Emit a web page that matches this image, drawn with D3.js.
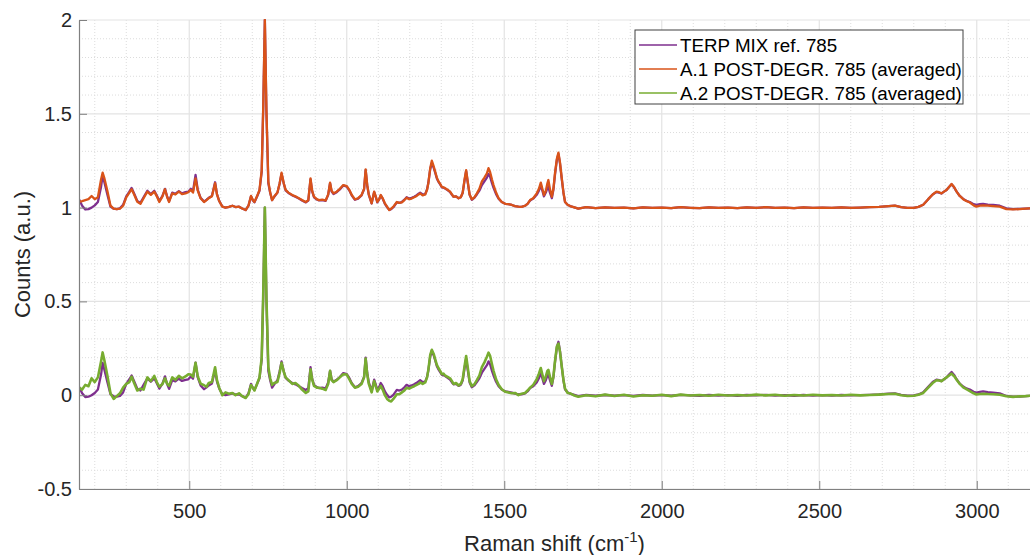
<!DOCTYPE html>
<html>
<head>
<meta charset="utf-8">
<script src="https://cdn.jsdelivr.net/npm/d3@7"></script>
<style>
  html, body { margin: 0; padding: 0; background: #fff; }
  svg { display: block; font-family: "Liberation Sans", Arial, Helvetica, sans-serif; }
</style>
</head>
<body>
<svg id="chart" width="1030" height="555"></svg>
<script>
// Raman shift axis (cm^-1), shared by all spectra
const shift = [
  150,160,170,180,190,200,210,220,225,230,240,250,260,270,280,290,300,310,317,325,
  335,345,355,367,378,389,397,405,415,423,430,436,446,456,467,477,488,497,505,512,
  520,527,536,547,555,562,572,582,588,595,605,615,626,637,647,658,668,679,688,696,
  702,707,715,723,730,735,740,745,751,757,763,770,780,787,793,800,806,815,827,837,
  848,858,870,878,885,890,896,905,912,922,933,941,947,952,958,968,978,989,1000,1008,
  1016,1026,1036,1047,1055,1060,1065,1070,1079,1087,1092,1097,1103,1108,1114,1121,1128,1135,1141,1148,
  1159,1167,1175,1183,1190,1198,1206,1214,1222,1228,1233,1241,1249,1255,1259,1265,1270,1276,1281,1286,
  1291,1297,1302,1307,1312,1320,1328,1334,1339,1347,1355,1362,1368,1374,1379,1384,1390,1397,1405,1413,
  1421,1429,1437,1445,1450,1455,1461,1466,1474,1482,1492,1503,1513,1524,1534,1545,1555,1566,1574,1582,
  1592,1603,1610,1616,1621,1626,1632,1637,1640,1645,1651,1656,1661,1667,1672,1677,1682,1688,1693,1701,
  1709,1720,1735,1760,1790,1820,1850,1880,1910,1940,1970,2000,2030,2060,2090,2120,2150,2180,2210,2240,
  2270,2300,2330,2360,2390,2420,2450,2480,2510,2540,2570,2600,2630,2660,2690,2720,2740,2760,2780,2800,
  2815,2830,2846,2860,2872,2880,2888,2896,2904,2912,2920,2928,2936,2946,2957,2967,2978,2990,2999,3010,
  3020,3035,3052,3073,3094,3115,3137,3155,3170
];

// TERP MIX ref. 785 (normalised counts)
const terpRef = [
  0.045,0.010,-0.010,-0.008,0.000,0.012,0.030,0.110,0.172,0.140,0.070,0.005,-0.006,-0.008,-0.004,0.015,0.060,0.085,0.105,0.075,
  0.035,0.025,0.055,0.090,0.072,0.090,0.064,0.035,0.062,0.100,0.058,0.034,0.080,0.074,0.088,0.076,0.082,0.085,0.100,0.088,
  0.174,0.095,0.052,0.032,0.042,0.052,0.062,0.135,0.072,0.036,0.006,0.000,0.004,0.010,0.003,0.005,-0.005,-0.013,0.010,0.060,
  0.038,0.028,0.058,0.090,0.190,0.540,1.000,0.510,0.130,0.078,0.040,0.058,0.080,0.128,0.180,0.128,0.092,0.078,0.065,0.058,
  0.048,0.038,0.028,0.038,0.150,0.088,0.055,0.043,0.038,0.040,0.036,0.068,0.130,0.085,0.072,0.082,0.097,0.118,0.112,0.092,
  0.064,0.042,0.048,0.065,0.098,0.200,0.118,0.068,0.022,0.083,0.058,0.028,0.044,0.065,0.048,0.020,0.002,-0.012,-0.008,0.002,
  0.028,0.025,0.030,0.042,0.055,0.048,0.052,0.058,0.066,0.074,0.080,0.070,0.072,0.098,0.132,0.205,0.238,0.212,0.185,0.155,
  0.138,0.122,0.108,0.106,0.102,0.093,0.083,0.068,0.058,0.060,0.050,0.055,0.078,0.145,0.195,0.135,0.068,0.042,0.052,0.070,
  0.090,0.120,0.140,0.160,0.180,0.165,0.130,0.105,0.072,0.048,0.030,0.020,0.018,0.014,0.008,0.005,0.004,0.010,0.020,0.038,
  0.048,0.068,0.090,0.120,0.090,0.060,0.080,0.105,0.110,0.080,0.050,0.095,0.175,0.255,0.285,0.235,0.160,0.078,0.030,0.015,
  0.008,0.003,-0.005,0.002,-0.003,0.001,-0.002,0.000,-0.004,0.001,-0.002,0.000,-0.003,0.002,-0.001,-0.003,0.001,-0.002,0.000,-0.003,
  0.001,-0.001,0.002,-0.002,0.000,-0.003,0.001,-0.002,0.000,-0.002,0.001,-0.001,0.000,0.002,0.004,0.008,0.010,0.002,-0.002,-0.001,
  0.004,0.015,0.045,0.070,0.083,0.080,0.075,0.085,0.094,0.110,0.124,0.108,0.085,0.062,0.046,0.036,0.030,0.018,0.014,0.018,
  0.020,0.016,0.014,0.010,-0.004,-0.008,-0.007,-0.005,-0.004
];

// A.1 POST-DEGR. 785 (averaged)
const a1Post = [
  0.031,0.035,0.040,0.045,0.062,0.045,0.055,0.150,0.186,0.160,0.090,0.010,-0.005,-0.008,-0.006,0.010,0.055,0.080,0.098,0.070,
  0.031,0.020,0.050,0.085,0.068,0.085,0.060,0.030,0.060,0.098,0.055,0.030,0.076,0.070,0.085,0.072,0.076,0.082,0.094,0.080,
  0.156,0.090,0.050,0.030,0.040,0.050,0.060,0.130,0.070,0.035,0.005,0.000,0.004,0.010,0.003,0.005,-0.005,-0.013,0.010,0.062,
  0.040,0.030,0.060,0.094,0.200,0.550,1.000,0.520,0.140,0.080,0.040,0.060,0.080,0.130,0.186,0.130,0.094,0.080,0.067,0.060,
  0.050,0.040,0.030,0.040,0.156,0.090,0.058,0.045,0.040,0.042,0.038,0.070,0.133,0.090,0.076,0.085,0.100,0.120,0.115,0.095,
  0.067,0.044,0.050,0.067,0.100,0.204,0.120,0.070,0.023,0.085,0.060,0.030,0.045,0.067,0.050,0.023,0.005,-0.013,-0.005,0.005,
  0.030,0.025,0.028,0.040,0.053,0.045,0.048,0.055,0.062,0.070,0.076,0.065,0.070,0.095,0.130,0.210,0.250,0.220,0.190,0.160,
  0.140,0.125,0.110,0.108,0.104,0.095,0.085,0.070,0.058,0.060,0.050,0.055,0.080,0.150,0.200,0.140,0.070,0.044,0.055,0.076,
  0.100,0.140,0.160,0.183,0.210,0.190,0.150,0.120,0.080,0.050,0.030,0.020,0.018,0.014,0.008,0.005,0.004,0.010,0.020,0.040,
  0.050,0.076,0.100,0.133,0.100,0.067,0.090,0.130,0.147,0.100,0.058,0.100,0.183,0.260,0.293,0.240,0.165,0.080,0.030,0.015,
  0.008,0.003,-0.005,0.002,-0.003,0.001,-0.002,0.000,-0.004,0.001,-0.002,0.000,-0.003,0.002,-0.001,-0.003,0.001,-0.002,0.000,-0.003,
  0.001,-0.001,0.002,-0.002,0.000,-0.003,0.001,-0.002,0.000,-0.002,0.001,-0.001,0.000,0.002,0.004,0.008,0.010,0.002,-0.002,-0.001,
  0.004,0.015,0.045,0.070,0.085,0.082,0.076,0.085,0.094,0.110,0.126,0.110,0.085,0.062,0.045,0.035,0.027,0.012,0.005,0.010,
  0.012,0.010,0.008,0.005,-0.008,-0.010,-0.008,-0.006,-0.004
];

// A.2 POST-DEGR. 785 (averaged)
const a2Post = [
  0.040,0.030,0.055,0.048,0.090,0.070,0.095,0.180,0.228,0.190,0.105,0.010,-0.020,-0.005,0.010,0.040,0.060,0.070,0.098,0.065,
  0.025,0.035,0.030,0.095,0.075,0.103,0.070,0.045,0.060,0.090,0.060,0.050,0.095,0.082,0.103,0.090,0.100,0.112,0.110,0.098,
  0.173,0.100,0.062,0.053,0.045,0.065,0.070,0.149,0.080,0.040,0.000,0.015,0.008,0.012,0.000,0.010,-0.005,-0.015,0.005,0.054,
  0.040,0.025,0.060,0.095,0.200,0.550,1.000,0.520,0.150,0.090,0.055,0.065,0.070,0.120,0.173,0.125,0.095,0.080,0.060,0.065,
  0.050,0.030,0.012,0.020,0.138,0.085,0.050,0.040,0.040,0.035,0.028,0.060,0.130,0.080,0.070,0.080,0.095,0.112,0.110,0.085,
  0.060,0.040,0.045,0.060,0.095,0.195,0.110,0.060,0.015,0.075,0.050,0.020,0.035,0.050,0.030,0.000,-0.020,-0.030,-0.033,-0.020,
  0.005,0.005,0.015,0.025,0.040,0.035,0.042,0.048,0.055,0.060,0.068,0.060,0.068,0.095,0.135,0.215,0.242,0.220,0.190,0.162,
  0.145,0.128,0.112,0.115,0.105,0.098,0.090,0.075,0.060,0.065,0.052,0.060,0.085,0.155,0.209,0.150,0.075,0.048,0.058,0.080,
  0.105,0.150,0.175,0.205,0.227,0.210,0.165,0.130,0.085,0.055,0.032,0.018,0.015,0.010,0.012,0.000,0.008,0.012,0.025,0.040,
  0.055,0.085,0.115,0.145,0.110,0.075,0.100,0.130,0.135,0.100,0.060,0.100,0.180,0.260,0.275,0.230,0.160,0.080,0.035,0.012,
  0.010,0.000,-0.008,0.000,-0.006,0.003,-0.004,0.002,-0.007,0.000,-0.003,0.002,-0.005,0.003,-0.002,0.001,-0.003,0.002,-0.002,0.001,
  -0.002,0.003,-0.001,0.002,-0.003,0.001,-0.002,0.002,-0.001,0.001,-0.002,0.002,-0.001,0.001,0.003,0.006,0.008,0.000,-0.004,-0.003,
  0.002,0.012,0.040,0.065,0.080,0.078,0.075,0.085,0.095,0.105,0.115,0.102,0.082,0.060,0.042,0.032,0.022,0.010,0.004,0.006,
  0.008,0.006,0.005,0.002,-0.006,-0.009,-0.006,-0.005,-0.003
];

// The reference and A.1 are stacked one unit above the A.2 comparison
const stackOffset = 1;

const legendLabels = ["TERP MIX ref. 785", "A.1 POST-DEGR. 785 (averaged)", "A.2 POST-DEGR. 785 (averaged)"];
const seriesColors = ["#7E2F8E", "#D95319", "#77AC30"];

const xTicks = [500, 1000, 1500, 2000, 2500, 3000];
const yTicks = [-0.5, 0, 0.5, 1, 1.5, 2];
const yTickLabels = ["-0.5", "0", "0.5", "1", "1.5", "2"];

const svg = d3.select("#chart");
const plot = { left: 79, right: 1030, top: 20, bottom: 489 };

const x = d3.scaleLinear().domain([150, 3169]).range([plot.left, plot.right]);
const y = d3.scaleLinear().domain([-0.5, 2]).range([plot.bottom, plot.top]);

// grid: dotted minor lines, solid major lines
const grid = svg.append("g");
const xMinor = d3.range(200, 3170, 100).filter(v => v % 500 !== 0);
const yMinor = d3.range(-4, 20).map(i => i / 10).filter(v => Math.abs(v * 2 - Math.round(v * 2)) > 1e-6);

grid.selectAll(".xm").data(xMinor).join("line")
  .attr("x1", d => x(d)).attr("x2", d => x(d))
  .attr("y1", plot.top).attr("y2", plot.bottom)
  .attr("stroke", "#dcdcdc").attr("stroke-width", 1).attr("stroke-dasharray", "1,2");
grid.selectAll(".ym").data(yMinor).join("line")
  .attr("x1", plot.left).attr("x2", plot.right)
  .attr("y1", d => y(d)).attr("y2", d => y(d))
  .attr("stroke", "#dcdcdc").attr("stroke-width", 1).attr("stroke-dasharray", "1,2");
grid.selectAll(".xM").data(xTicks).join("line")
  .attr("x1", d => x(d)).attr("x2", d => x(d))
  .attr("y1", plot.top).attr("y2", plot.bottom)
  .attr("stroke", "#e3e3e3").attr("stroke-width", 1.2);
grid.selectAll(".yM").data(yTicks).join("line")
  .attr("x1", plot.left).attr("x2", plot.right)
  .attr("y1", d => y(d)).attr("y2", d => y(d))
  .attr("stroke", "#e3e3e3").attr("stroke-width", 1.2);

// spectra
svg.append("clipPath").attr("id", "plotClip")
  .append("rect").attr("x", plot.left).attr("y", plot.top - 1)
  .attr("width", plot.right - plot.left).attr("height", plot.bottom - plot.top + 1);

const line = d3.line().x(d => x(d[0])).y(d => y(d[1]));
const traces = [
  { values: terpRef, offset: stackOffset, color: seriesColors[0], width: 2.3 },
  { values: a1Post, offset: stackOffset, color: seriesColors[1], width: 2.3 },
  { values: terpRef, offset: 0, color: seriesColors[0], width: 2.3 },
  { values: a2Post, offset: 0, color: seriesColors[2], width: 2.6 }
];
const lines = svg.append("g").attr("clip-path", "url(#plotClip)");
traces.forEach(t => {
  lines.append("path")
    .datum(shift.map((s, i) => [s, t.values[i] + t.offset]))
    .attr("d", line)
    .attr("fill", "none")
    .attr("stroke", t.color)
    .attr("stroke-width", t.width)
    .attr("stroke-linejoin", "round");
});

// axes
const xAxis = d3.axisBottom(x).tickValues(xTicks).tickFormat(d3.format("d"))
  .tickSizeInner(-8).tickSizeOuter(0).tickPadding(15);
const yAxis = d3.axisLeft(y).tickValues(yTicks).tickFormat((d, i) => yTickLabels[i])
  .tickSizeInner(-8).tickSizeOuter(0).tickPadding(7);

const gx = svg.append("g").attr("transform", `translate(0,${plot.bottom})`).call(xAxis);
const gy = svg.append("g").attr("transform", `translate(${plot.left},0)`).call(yAxis);
[gx, gy].forEach(g => {
  g.select(".domain").attr("stroke", "#808080").attr("stroke-width", 1.2);
  g.selectAll(".tick line").attr("stroke", "#808080").attr("stroke-width", 1);
  g.selectAll(".tick text").attr("fill", "#262626").style("font-size", "20px")
    .style("font-family", "'Liberation Sans', Arial, sans-serif");
});

// axis titles, centred on the axes
const xLabel = svg.append("text")
  .attr("x", (plot.left + plot.right) / 2).attr("y", 551)
  .attr("text-anchor", "middle")
  .attr("fill", "#262626")
  .style("font-size", "22px");
xLabel.append("tspan").text("Raman shift (cm");
xLabel.append("tspan").attr("dy", -9).style("font-size", "15px").text("-1");
xLabel.append("tspan").attr("dy", 9).text(")");

svg.append("text")
  .attr("transform", `translate(30,${(plot.top + plot.bottom) / 2}) rotate(-90)`)
  .attr("text-anchor", "middle")
  .attr("fill", "#262626")
  .style("font-size", "22px")
  .text("Counts (a.u.)");

// legend
const legend = svg.append("g").attr("transform", "translate(635,30)");
legend.append("rect")
  .attr("width", 328).attr("height", 74)
  .attr("fill", "#fff").attr("stroke", "#404040").attr("stroke-width", 1);
legendLabels.forEach((lab, i) => {
  const cy = 15 + i * 24;
  legend.append("line")
    .attr("x1", 4).attr("x2", 42).attr("y1", cy).attr("y2", cy)
    .attr("stroke", seriesColors[i]).attr("stroke-width", 1.5);
  legend.append("text")
    .attr("x", 45).attr("y", cy).attr("dy", "0.35em")
    .attr("fill", "#000")
    .style("font-size", "18.8px")
    .text(lab);
});
</script>
</body>
</html>
